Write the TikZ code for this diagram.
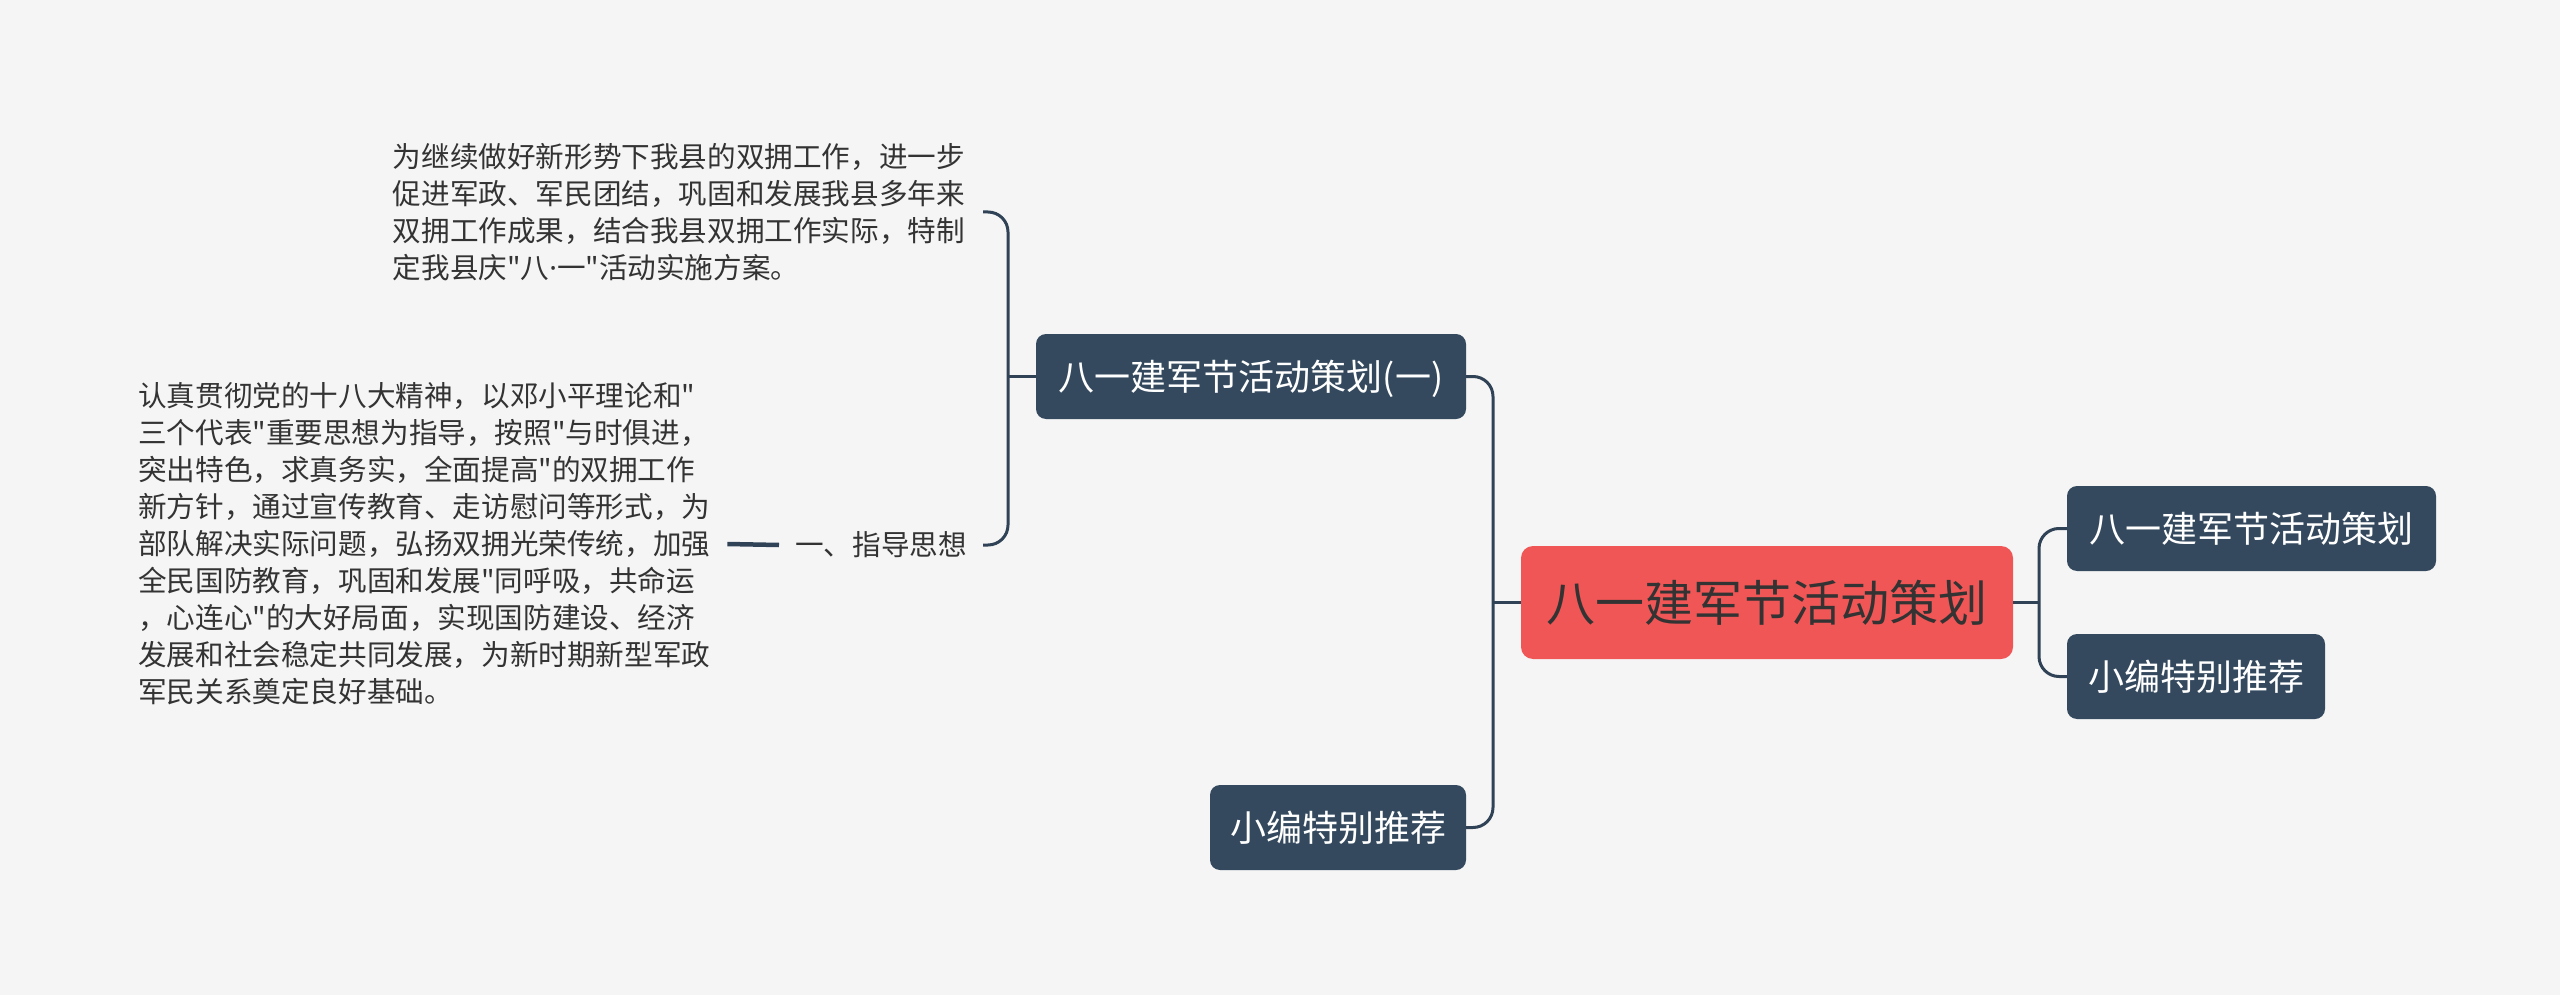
\documentclass[tikz,border=0pt]{standalone}
\usepackage{fontspec}
\setmainfont{Noto Sans CJK SC}
\newfontfamily\cjkplain{Noto Sans CJK SC}
\newfontfamily\latinplain{Noto Sans}
\newcommand{\middot}{{\latinplain ·}}
\definecolor{bg}{HTML}{F5F5F5}
\definecolor{navy}{HTML}{34495E}
\definecolor{lnc}{HTML}{2F4256}
\definecolor{rootred}{HTML}{F05656}
\definecolor{txt}{HTML}{333333}
\begin{document}
\begin{tikzpicture}[x=1pt,y=-1pt,
  box/.style={rounded corners=10pt, fill=navy, text=white,
    font=\cjkplain\fontsize{36}{43}\selectfont, minimum height=85pt,
    inner xsep=0pt, inner ysep=0pt, text height=31.7pt, text depth=4.3pt},
  rootbox/.style={rounded corners=12pt, fill=rootred, text=txt,
    font=\cjkplain\fontsize{49}{58}\selectfont, minimum height=113pt, minimum width=492pt,
    inner xsep=0pt, inner ysep=0pt, text height=43.1pt, text depth=5.9pt},
  body/.style={text=txt, font=\cjkplain\fontsize{28.6}{37}\selectfont, align=left,
    inner xsep=16pt, inner ysep=0pt},
  conn/.style={draw=lnc, line width=3pt, rounded corners=20pt},
  stub/.style={draw=lnc, line width=4.5pt}
]
\useasboundingbox[fill=bg] (0,0) rectangle (2560,995);

\node[rootbox] (root) at (1767,602.5) {八一建军节活动策划};
\node[box, minimum width=430pt] (c1) at (1251,376.5) {八一建军节活动策划(一)};
\node[box, minimum width=256pt] (c2) at (1338,827.5) {小编特别推荐};
\node[box, minimum width=369pt] (r1) at (2251.5,528.5) {八一建军节活动策划};
\node[box, minimum width=258pt] (r2) at (2196,676.5) {小编特别推荐};

\node[body, anchor=east, text width=574pt] (t1) at (983,212) {为继续做好新形势下我县的双拥工作，进一步\\
促进军政、军民团结，巩固和发展我县多年来\\
双拥工作成果，结合我县双拥工作实际，特制\\
定我县庆"八\middot 一"活动实施方案。};
\node[body, anchor=east] (lab) at (983,545) {一、指导思想};
\node[body, anchor=west, inner xsep=14pt, text width=575pt] (t2) at (124,544) {认真贯彻党的十八大精神，以邓小平理论和"\\
三个代表"重要思想为指导，按照"与时俱进，\\
突出特色，求真务实，全面提高"的双拥工作\\
新方针，通过宣传教育、走访慰问等形式，为\\
部队解决实际问题，弘扬双拥光荣传统，加强\\
全民国防教育，巩固和发展"同呼吸，共命运\\
，心连心"的大好局面，实现国防建设、经济\\
发展和社会稳定共同发展，为新时期新型军政\\
军民关系奠定良好基础。};

\coordinate (jl) at (1493,602.5);
\coordinate (jr) at (2039,602.5);
\coordinate (jc) at (1008,376.5);

\draw[conn] (c1.east) -| (jl) |- (c2.east);
\draw[conn] (root.west) -- (jl);
\draw[conn] (r1.west) -| (jr) |- (r2.west);
\draw[conn] (root.east) -- (jr);
\draw[conn] (t1.east) -| (jc) |- (lab.east);
\draw[conn] (c1.west) -- (jc);
\draw[stub] (t2.east) -- (lab.west);
\end{tikzpicture}
\end{document}
